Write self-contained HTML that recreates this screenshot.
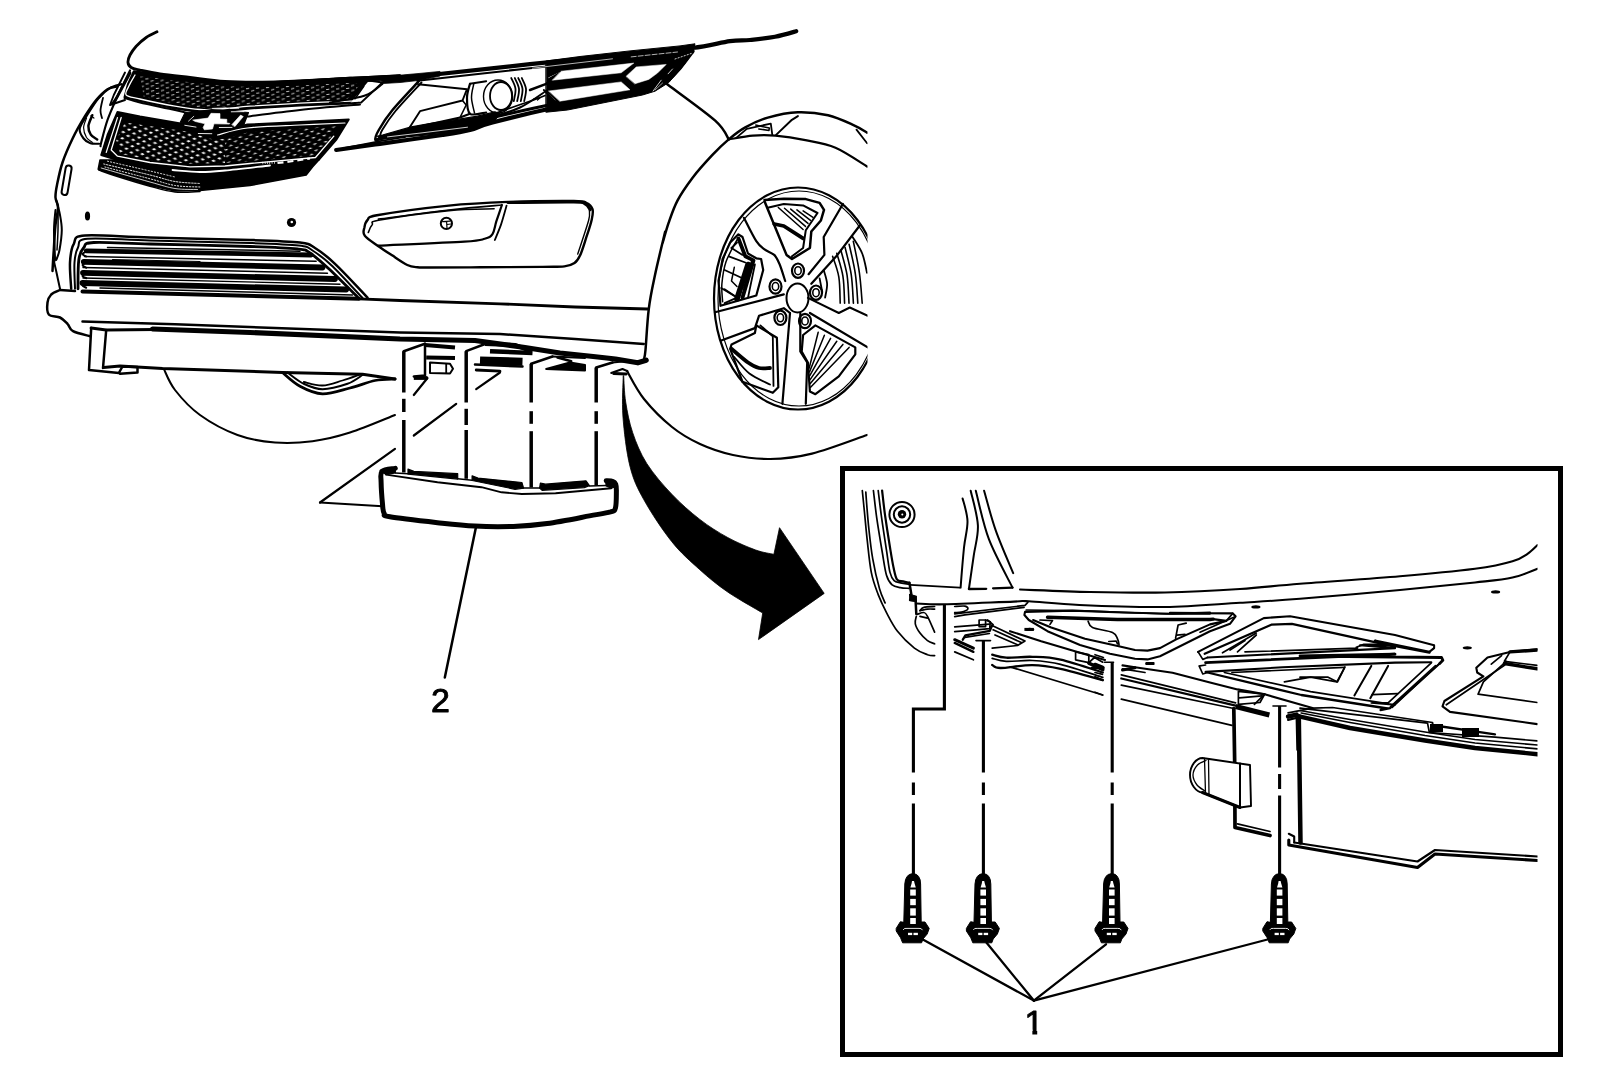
<!DOCTYPE html>
<html><head><meta charset="utf-8"><title>Front Air Deflector</title>
<style>
html,body{margin:0;padding:0;background:#fff;}
body{width:1600px;height:1084px;overflow:hidden;font-family:"Liberation Sans",sans-serif;}
svg{display:block}
text{font-family:"Liberation Sans",sans-serif;}
</style></head><body>
<svg width="1600" height="1084" viewBox="0 0 1600 1084" stroke-linecap="round" stroke-linejoin="round">
<defs>
<pattern id="mesh" width="10" height="5" patternUnits="userSpaceOnUse" patternTransform="rotate(-3)">
<path d="M1 1.2 L4.2 0.7 L4.2 1.5 L1 2Z M6 3.7 L9.2 3.2 L9.2 4 L6 4.5Z" fill="#fff"/>
</pattern>
<pattern id="mesh2" width="11" height="6.4" patternUnits="userSpaceOnUse" patternTransform="rotate(8)">
<path d="M0.6 1.6 L2.8 0.5 L5.2 1.6 L2.8 2.7Z M6.1 4.8 L8.3 3.7 L10.7 4.8 L8.3 5.9Z" fill="#fff"/>
</pattern>
<pattern id="mesh3" width="11" height="6.4" patternUnits="userSpaceOnUse" patternTransform="rotate(-12)">
<path d="M0.6 1.6 L3.2 1.0 L5.4 1.6 L2.8 2.3Z M6.1 4.8 L8.7 4.2 L10.9 4.8 L8.3 5.5Z" fill="#fff"/>
</pattern>
<clipPath id="carclip"><rect x="0" y="0" width="867.5" height="700"/></clipPath>
<clipPath id="insclip"><rect x="845" y="471" width="692.5" height="581"/></clipPath>
</defs>
<rect width="1600" height="1084" fill="#fff"/>
<g clip-path="url(#carclip)">
<path d="M163.8 368.8C165.6 372.3 169 382.3 175 390C181 397.7 189.6 407.5 200 415C210.4 422.5 225 430.4 237.5 435C250 439.6 262.5 441.5 275 442.5C287.5 443.5 300 442.9 312.5 441.2C325 439.6 336.2 436.9 350 432.5C363.8 428.1 387.5 417.9 395 415" fill="none" stroke="#000" stroke-width="2" />
<path d="M157 31.8C155.2 32.7 149.7 35.1 146.2 37.5C142.8 39.9 139 43.3 136.2 46.2C133.5 49.2 131.4 52.3 130 55C128.6 57.7 127.8 60.4 128 62.5C128.2 64.6 129.2 66.2 131.2 67.5C133.2 68.8 135.2 69 140 70C144.8 71 151.7 72.5 160 73.8C168.3 75 179.2 76.2 190 77.5C200.8 78.8 212.9 80.7 225 81.5C237.1 82.3 250 82.3 262.5 82.2C275 82.2 285.4 81.7 300 81C314.6 80.3 333.3 79.1 350 78.2C366.7 77.4 391.7 76.4 400 76" fill="none" stroke="#000" stroke-width="2.8" />
<path d="M400 77.2C405 76.9 408.3 77.2 430 75C451.7 72.8 496.7 67.7 530 64.2C563.3 60.8 602.9 57 630 54.2C657.1 51.5 675.8 50.2 692.5 48C709.2 45.8 720.4 42.6 730 41.2C739.6 39.9 742.5 40.8 750 40C757.5 39.2 767.3 38.2 775 36.8C782.7 35.3 792.7 32.2 796.2 31.2" fill="none" stroke="#000" stroke-width="4.2" />
<path d="M380 76.5 L400 75.2 L422 73.2 L440 71.4 L440 76 L420 80.3 L400 82.5 L383 83.5Z" fill="#000" stroke="#000" stroke-width="0.8" />
<path d="M133.8 71.2 L160 74.5 L190 78.2 L225 82 L262.5 82.5 L300 80.8 L350 77.8 L368.8 79.5 L360 90 L348.8 103.5 L300 105.5 L250 108.5 L225 111 L200 112.2 L175 108.5 L140 101 L124.5 97 L128 83.8Z" fill="#000" stroke="#000" stroke-width="1.9" />
<path d="M140 76.2 L175 80.5 L225 86.2 L262.5 87 L300 85.5 L350 82.5 L360 84.5 L347.5 99.5 L300 101.2 L250 104.5 L225 106.5 L200 107.5 L175 103.8 L143.8 97Z" fill="url(#mesh)" stroke="none"/>
<path d="M225 81.5 L262.5 82.2 L300 80.5 L350 77.5 L400 74.8 L400 77.5 L382.5 80.5 L350 82.5 L300 85 L262.5 86.2 L225 85Z" fill="#000" stroke="#000" stroke-width="1.2" />
<path d="M368.8 80.5 L382.5 82.5 L361.2 102.5 L348.8 103.5" fill="none" stroke="#000" stroke-width="1.8" />
<path d="M363.8 86.2 L355 98.8" fill="none" stroke="#000" stroke-width="1.5" />
<path d="M135 75C134 76.9 130.2 82.9 128.8 86.2C127.3 89.6 124.4 92.9 126.2 95C128.1 97.1 131.9 97.1 140 99C148.1 100.9 165 104.5 175 106.2C185 108 191.7 109.1 200 109.5C208.3 109.9 216.7 109 225 108.5C233.3 108 237.5 107.1 250 106.2C262.5 105.4 282.1 104.2 300 103.2C317.9 102.3 347.9 101.2 357.5 100.8" fill="none" stroke="#fff" stroke-width="1.3" />
<path d="M130 73C127.9 76.9 120.4 91.1 117.5 96.2C114.6 101.4 113.3 102.5 112.5 103.8" fill="none" stroke="#000" stroke-width="2.8" />
<path d="M125 72.5 L113.8 95 L110 105 L125 100" fill="none" stroke="#000" stroke-width="1.9" />
<path d="M117.5 112 L140 116.5 L185 124.2 L215 132 L247.5 124.5 L300 122 L348.8 119.5 L336.2 140 L318.8 160 L250 167 L225 169.5 L190 170.5 L150 166.2 L117.5 160 L101.2 155 L107.5 135Z" fill="#000" stroke="#000" stroke-width="1.9" />
<path d="M125 122.5 L185 131.2 L215 140 L225 138.8 L225 163 L190 163.8 L150 160 L120 153.8 L116.2 140Z" fill="url(#mesh2)" stroke="none"/>
<path d="M225 138.8 L247.5 132.5 L300 128.8 L337.5 126.2 L327.5 142.5 L313.8 155.5 L250 161.2 L225 163Z" fill="url(#mesh3)" stroke="none"/>
<path d="M345 123C337.5 123.3 316.2 124.2 300 125C283.8 125.8 261.2 126.3 247.5 128C233.8 129.7 222.5 133.8 217.5 135" fill="none" stroke="#fff" stroke-width="1.2" />
<path d="M121.2 117.5 L111.2 150 L117.5 156.2 L150 162.5 L190 166.8 L225 166 L250 163.5 L315.5 157.5 L333.8 136.2" fill="none" stroke="#fff" stroke-width="1.3" />
<path d="M117.5 117.5 L106.2 152.5" fill="none" stroke="#fff" stroke-width="1.2" />
<path d="M124.5 98C127.1 98.8 131.6 100.5 140 102.5C148.4 104.5 166.7 108.1 175 110C183.3 111.9 187.5 113.1 190 113.8" fill="none" stroke="#000" stroke-width="2" />
<path d="M247.5 116.5C256.2 115.4 281.2 112 300 110C318.8 108 350 105.4 360 104.5" fill="none" stroke="#000" stroke-width="2" />
<path d="M184.8 113.3 L211.8 109.7 L248.5 112.5 L243.6 125.3 L232 127.1 L214 133.1 L200.5 129 L180.3 122.3Z" fill="#000" stroke="#000" stroke-width="1.2" />
<path d="M193 120 L208 118.1 L211 113.3 L220 113.6 L220 118.9 L226.8 119.3 L226.8 123 L229.8 123.4 L229.4 124.1 L214 123.8 L212.5 129 L204.3 129.8 L203.1 127.5 L205 123.8 L195.3 121.5Z" fill="#fff" stroke="#fff" stroke-width="0.6" />
<path d="M232 124.5 L240.6 115.1 L243.3 116.6 L235 126.4Z" fill="#fff" stroke="#fff" stroke-width="0.6" />
<path d="M212.5 108.4 L226 108" fill="none" stroke="#fff" stroke-width="0.9" />
<path d="M230.5 108.4 L238.8 108.2" fill="none" stroke="#fff" stroke-width="0.9" />
<path d="M231.3 111.8 L244 111.6" fill="none" stroke="#fff" stroke-width="0.9" />
<path d="M184.8 125.3 L196 127.1" fill="none" stroke="#fff" stroke-width="0.9" />
<path d="M198.3 133.5 L211.8 133.7" fill="none" stroke="#fff" stroke-width="0.9" />
<path d="M219.3 127.5 L232 127.4" fill="none" stroke="#fff" stroke-width="0.9" />
<path d="M188.5 121.1 L193.8 116.3" fill="none" stroke="#fff" stroke-width="0.8" />
<path d="M100 160 L117.5 160 L150 166.2 L190 170.5 L225 169.5 L250 167 L318.8 160 L312.5 167 L306.2 175 L250 185.5 L200 190.5 L175 191 L150 185.5 L117.5 175.5 L98.2 169.2Z" fill="#000" stroke="#000" stroke-width="1.5" />
<path d="M105 167C112.5 169 138.3 175.7 150 178.8C161.7 181.8 166.7 184.1 175 185.5C183.3 186.9 195.8 186.8 200 187" fill="none" stroke="#fff" stroke-width="1" stroke-dasharray="1.2 1.8"/>
<path d="M103.8 164C111.5 165.8 138.1 172.1 150 175C161.9 177.9 166.7 180.1 175 181.5C183.3 182.9 195.8 183.2 200 183.5" fill="none" stroke="#fff" stroke-width="1" stroke-dasharray="1.4 1.6"/>
<path d="M107.5 161.2C114.6 162.9 138.8 168.4 150 171C161.2 173.6 170.8 176 175 177" fill="none" stroke="#fff" stroke-width="0.9" stroke-dasharray="1.2 2"/>
<path d="M101.2 168C109.4 170.3 137.7 178.6 150 182C162.3 185.4 167.1 187.2 175 188.5C182.9 189.8 193.8 189.3 197.5 189.5" fill="none" stroke="#fff" stroke-width="0.8" />
<path d="M262.5 163 L275 162.5" fill="none" stroke="#fff" stroke-width="2.4" stroke-dasharray="0.7 1.6" stroke-linecap="butt"/>
<path d="M277.5 163 L290 161.5 L300 160 L310 158.5" fill="none" stroke="#fff" stroke-width="2.2" stroke-dasharray="6 4" stroke-linecap="butt"/>
<path d="M172.5 170C177.1 170.3 191.2 171.9 200 172C208.8 172.1 213.3 171.6 225 170.5C236.7 169.4 262.5 166.3 270 165.5" fill="none" stroke="#fff" stroke-width="1.8" />
<path d="M98.8 170C101.9 171.1 109 173.8 117.5 176.5C126 179.2 140.4 183.7 150 186.2C159.6 188.8 166.7 191.1 175 192C183.3 192.9 195.8 191.6 200 191.5" fill="none" stroke="#000" stroke-width="1.5" />
<path d="M117.5 86.2C115.8 86.8 111 87 107.5 89.2C104 91.5 100 95.5 96.2 100C92.5 104.5 89 109.8 85 116.2C81 122.7 76.2 131 72.5 138.8C68.8 146.5 65.1 154.8 62.5 162.5C59.9 170.2 58.2 179.2 57 185C55.8 190.8 55.3 193.8 55.5 197.5C55.7 201.2 58 202.9 58 207.5C58 212.1 56.2 217.9 55.5 225C54.8 232.1 54.2 242.3 53.8 250C53.2 257.7 52.7 267.5 52.5 271" fill="none" stroke="#000" stroke-width="2.5" />
<path d="M121.4 84.2C119.5 84.9 113.6 85.7 109.8 88.1C105.9 90.5 102 94.1 98.1 98.8C94.3 103.4 89.6 111.2 86.5 116.2C83.4 121.2 80.2 125.1 79.7 128.8C79.2 132.5 81.8 136.1 83.6 138.5C85.4 140.9 87.8 142.5 90.4 143.3C93 144.2 97.7 143.7 99.1 143.7" fill="none" stroke="#000" stroke-width="2.1" />
<path d="M92.3 115.2C91.7 117 88.7 122.7 88.4 125.9C88.2 129.1 89.3 132.4 90.8 134.6C92.2 136.9 96.1 138.6 97.2 139.5" fill="none" stroke="#000" stroke-width="2.5" />
<path d="M86.5 118.1C86 119.8 83.6 124.6 83.6 127.8C83.6 131.1 85.1 135.1 86.5 137.5C88 139.9 91.4 141.6 92.3 142.4" fill="none" stroke="#000" stroke-width="1.2" />
<path d="M103 97.8C102.6 99.9 100.6 107 100.5 110.4C100.3 113.8 101.8 116.8 102 118.1" fill="none" stroke="#000" stroke-width="1.8" />
<path d="M90.8 115.8 L93.9 118.1" fill="none" stroke="#000" stroke-width="1.2" />
<path d="M130 70.5C127.9 74.8 121.2 88 117.5 96.2C113.8 104.5 110.2 112.3 107.5 120C104.8 127.7 102.4 138.1 101.2 142.5C100.1 146.9 100.6 145.6 100.5 146.2" fill="none" stroke="#000" stroke-width="2.2" />
<path d="M68.6 168.5 L64.6 192" stroke="#000" stroke-width="8" fill="none"/>
<path d="M68.6 168.5 L64.6 192" stroke="#fff" stroke-width="4" fill="none"/>
<path d="M56.2 200C56.9 202.5 59.1 210 60 215C60.9 220 61.8 224.2 61.8 230C61.7 235.8 60.4 245 59.5 250C58.6 255 56.8 258.3 56.2 260" fill="none" stroke="#000" stroke-width="2" />
<path d="M55.5 210C55.2 213.3 54.1 221.9 54 230C53.9 238.1 55 253.8 55 258.8C55 263.8 53.5 257.7 53.8 260C54 262.3 55.5 267.7 56.5 272.5C57.5 277.3 59.4 286 60 288.8" fill="none" stroke="#000" stroke-width="2" />
<path d="M58 207.5C58 211.2 58.2 222.9 58 230C57.8 237.1 57.2 246.7 57 250" fill="none" stroke="#000" stroke-width="1.5" />
<ellipse cx="87.5" cy="216" rx="2.6" ry="4.6" fill="#000"/>
<circle cx="291.5" cy="222.5" r="4.6" fill="#000"/><circle cx="291.8" cy="222" r="1.3" fill="#fff"/>
<path d="M71.2 288.8C71 284.4 69.6 270 70 262.5C70.4 255 71.2 248.2 73.8 243.8C76.2 239.2 72.3 236.5 85 235.5C97.7 234.5 122.5 236.8 150 237.5C177.5 238.2 225 239.2 250 240C275 240.8 289.2 241.2 300 242.5C310.8 243.8 309.2 244.5 315 248C320.8 251.5 326.2 255.5 335 263.8C343.8 272 362.1 291.9 367.5 297.5" fill="none" stroke="#000" stroke-width="2.5" />
<path d="M75 288.8C74.9 284.4 74 269.4 74.5 262.5C75 255.6 75.8 251.5 78 247.5C80.2 243.5 75.5 239.9 87.5 238.8C99.5 237.6 122.9 239.8 150 240.5C177.1 241.2 225.2 242.2 250 243C274.8 243.8 288.3 244.2 298.8 245.5C309.2 246.8 306.9 247 312.5 250.5C318.1 254 324.2 258.3 332.5 266.2C340.8 274.2 357.5 292.7 362.5 298" fill="none" stroke="#000" stroke-width="2" />
<path d="M78 288.8C78.1 284 77.8 266.9 78.8 260C79.7 253.1 81.2 250.4 83.8 247.5C86.2 244.6 82.7 243.1 93.8 242.5C104.8 241.9 124 243.3 150 244C176 244.7 225.4 245.7 250 246.5C274.6 247.3 287.5 247.9 297.5 249C307.5 250.1 304.8 249.7 310 253C315.2 256.3 320.6 261.2 328.8 268.8C336.9 276.3 353.8 293.3 358.8 298.2" fill="none" stroke="#000" stroke-width="2.8" />
<path d="M86.2 250.8 L311.2 255" fill="none" stroke="#000" stroke-width="4.8" />
<path d="M84.5 256.5 L316.2 261.2" fill="none" stroke="#000" stroke-width="1.4" />
<path d="M83.8 261.8 L322.5 267.5" fill="none" stroke="#000" stroke-width="5.8" />
<path d="M83 267.5 L327.5 273.2" fill="none" stroke="#000" stroke-width="1.4" />
<path d="M83 272.8 L335 279" fill="none" stroke="#000" stroke-width="5.8" />
<path d="M83 278 L340 284.2" fill="none" stroke="#000" stroke-width="1.4" />
<path d="M82.5 283 L346.2 289.5" fill="none" stroke="#000" stroke-width="5.8" />
<path d="M82.5 291.5 L358.8 298.8" fill="none" stroke="#000" stroke-width="4" />
<path d="M107.5 247.5 L300 251.2" fill="none" stroke="#000" stroke-width="1.5" />
<path d="M112.5 259.5 L200 261.5" fill="none" stroke="#000" stroke-width="1.2" />
<path d="M220 253.5 L287.5 255" fill="none" stroke="#000" stroke-width="1.2" />
<path d="M225 275.5 L325 278.2" fill="none" stroke="#000" stroke-width="1.2" />
<path d="M150 285.5 L250 288" fill="none" stroke="#000" stroke-width="1.2" />
<path d="M100 288 L352.5 295" fill="none" stroke="#000" stroke-width="1.5" />
<path d="M87 251.2C86.2 251.7 82.6 253 82.5 253.9C82.4 254.8 85.6 256.1 86.2 256.5" fill="none" stroke="#000" stroke-width="2" />
<path d="M87 262.2C86.2 262.7 82.6 264.1 82.5 265C82.4 265.9 85.6 267.3 86.2 267.8" fill="none" stroke="#000" stroke-width="2" />
<path d="M87 273.2C86.2 273.7 82.6 274.9 82.5 275.8C82.4 276.6 85.6 277.8 86.2 278.2" fill="none" stroke="#000" stroke-width="2" />
<path d="M87 283.5C86.2 283.9 82.6 284.9 82.5 285.6C82.4 286.3 85.6 287.4 86.2 287.8" fill="none" stroke="#000" stroke-width="2" />
<path d="M60 290C58.5 290.8 53.3 292.4 51.2 294.5C49.2 296.6 47.9 299.2 47.5 302.5C47.1 305.8 46.7 312 48.8 314.5C50.8 317 56.9 316 60 317.5C63.1 319 65.3 321.5 67.5 323.8C69.7 326 69.2 329.2 73 331.2C76.8 333.3 87.2 335.4 90 336.2" fill="none" stroke="#000" stroke-width="2.5" />
<path d="M60 290 L75 291" fill="none" stroke="#000" stroke-width="2.5" />
<path d="M358.8 298.8 L400 300.5 L500 303.8 L575 307 L647.5 309" fill="none" stroke="#000" stroke-width="2.8" />
<path d="M82.5 321.5 L175 324.2 L275 328 L400 332.5 L500 334 L575 339 L643.8 344" fill="none" stroke="#000" stroke-width="2.5" />
<path d="M152.5 329 L250 332.5 L400 339 L475 340.5 L525 347.5 L560 353 L593.2 356.5 L615.5 359 L637.8 362.8 L646.2 360.2" fill="none" stroke="#000" stroke-width="5.2" />
<path d="M91.2 328 L89 370 L118.8 373 L122.5 366.5 L137.5 367 L137.5 372.5 L120 373.8" fill="none" stroke="#000" stroke-width="2.5" />
<path d="M106.2 330 L103 368" fill="none" stroke="#000" stroke-width="2.5" />
<path d="M91.2 328 L106.2 330 L155 329.5" fill="none" stroke="#000" stroke-width="3.2" />
<path d="M103.5 367.5 L120 366 L162.5 368.5 L282.5 372.5 L362.5 374.2 L395 379" fill="none" stroke="#000" stroke-width="3" />
<path d="M282.5 372.5C285.4 374.8 293.3 382.7 300 386.2C306.7 389.8 314.2 393.5 322.5 393.8C330.8 394 341.2 390.2 350 388C358.8 385.8 367.5 382 375 380.5C382.5 379 391.7 379.2 395 379" fill="none" stroke="#000" stroke-width="2.8" />
<path d="M287.5 372.5C290.2 374.4 297.9 381 303.8 383.8C309.6 386.5 315.2 389.2 322.5 389.2C329.8 389.2 340.8 386.1 347.5 383.8C354.2 381.4 360 376.5 362.5 375" fill="none" stroke="#000" stroke-width="2" />
<path d="M303.8 382C306.9 382.6 316 385.8 322.5 385.5C329 385.2 336.2 382.3 342.5 380.5C348.8 378.7 357.1 375.5 360 374.5" fill="none" stroke="#000" stroke-width="1.8" />
<path d="M364.4 227.5C364.8 224.9 365.2 222.1 367.5 220C369.8 217.9 364.9 217.4 378.4 215C392 212.6 427.1 207.8 448.8 205.6C470.4 203.4 487.3 202.7 508.1 201.9C529 201.1 560.7 200.8 573.8 200.9C586.8 201.1 583.1 201.5 586.2 202.8C589.4 204.2 591.6 206.2 592.5 209.1C593.4 211.9 592.8 214.9 591.7 219.7C590.7 224.5 588.2 231.7 586.2 237.7C584.3 243.6 582 251.4 580 255.6C578 259.9 577.1 261.3 574.5 263.1C571.9 264.9 569.7 265.8 564.4 266.4C559 267 556.6 266.7 542.5 266.9C528.4 267 498.8 267.2 480 267.3C461.2 267.4 440.4 267.5 430 267.5C419.6 267.5 421.3 267.8 417.5 267.3C413.7 266.9 411.5 267 407.3 265C403.2 263 397.3 258.8 392.5 255.6C387.7 252.5 383.1 249.6 378.4 246.2C373.8 242.9 367 238.8 364.7 235.6C362.3 232.5 363.9 230.1 364.4 227.5Z" fill="none" stroke="#000" stroke-width="2.4" />
<path d="M508.1 202.5C519.1 202.4 560.9 201.6 573.8 201.9C586.6 202.1 582.7 202.8 585.5 204.1C588.2 205.3 589.4 208.6 590.2 209.5" fill="none" stroke="#000" stroke-width="3.2" />
<path d="M368.3 232.5C368.9 231.2 370.2 226.8 372.2 224.7C374.1 222.6 367.2 222.3 380 220C392.8 217.7 429.7 212.5 448.8 210.6C467.8 208.8 486.5 209.1 494.1 208.8" fill="none" stroke="#000" stroke-width="1.6" />
<path d="M378.4 219.1C390.2 217.6 428.2 212.3 448.8 210C469.3 207.7 493 205.8 501.9 205" fill="none" stroke="#000" stroke-width="1.6" />
<path d="M501.9 205C501 207.7 498 216.4 496.4 221.2C494.8 226.1 494.5 231.1 492.5 234.1C490.5 237 489.4 237.5 484.7 238.8C480 240 482.1 240.4 464.4 241.6C446.7 242.7 392.8 244.9 378.4 245.6" fill="none" stroke="#000" stroke-width="2.2" />
<path d="M506.6 205.6C505.7 208.8 503 218.6 501.1 224.4C499.1 230.1 495.9 237.4 494.8 240" fill="none" stroke="#000" stroke-width="1.8" />
<path d="M589.4 210.3C589.2 212 590.5 213.2 588.6 220.5C586.6 227.8 579.5 248.5 577.7 254.1" fill="none" stroke="#000" stroke-width="1.4" />
<circle cx="446.4" cy="223.4" r="5.6" fill="#fff" stroke="#000" stroke-width="2"/><path d="M442.6 221.6 L450 221.2 M446.6 221.4 L447 228.2 M447 224.5 L450.8 224" stroke="#000" stroke-width="1.2" fill="none"/>
<path d="M417.5 80.8C436.2 78.7 494.6 72 530 68.2C565.4 64.5 603.3 61 630 58.2C656.7 55.5 680 53 690 52" fill="none" stroke="#000" stroke-width="2" />
<path d="M418.8 81.2C414.4 86 399.2 101.9 392.5 110C385.8 118.1 381.6 125 378.8 130C375.9 135 375.1 139 375.5 140C375.9 141 380.3 136.9 381.2 136.2" fill="none" stroke="#000" stroke-width="2.5" />
<path d="M421.5 82.5C417.2 87.2 402 103.2 395.5 111C389 118.8 385.1 125.3 382.5 129.5C379.9 133.7 380.4 135.1 380 136.2" fill="none" stroke="#000" stroke-width="1.9" />
<path d="M336.2 150C343.5 149 362.3 146.2 380 143.8C397.7 141.2 427.5 137.3 442.5 135C457.5 132.7 461.7 132.1 470 130C478.3 127.9 478.3 126.2 492.5 122.5C506.7 118.8 532.1 112.5 555 107.5C577.9 102.5 613.3 96 630 92.5C646.7 89 648.8 88.3 655 86.2C661.2 84.2 663.3 83.1 667.5 80C671.7 76.9 675.8 72.3 680 67.5C684.2 62.7 690.4 54 692.5 51.2" fill="none" stroke="#000" stroke-width="4.2" />
<path d="M376.2 140C381 138.8 393.1 135.2 405 133C416.9 130.8 436.7 128 447.5 126.5C458.3 125 462.5 125.2 470 123.8C477.5 122.2 478.3 120.8 492.5 117.5C506.7 114.2 532.1 108.4 555 103.8C577.9 99.1 613.8 92.8 630 89.5C646.2 86.2 648.8 84.7 652.5 83.8" fill="none" stroke="#000" stroke-width="3" />
<path d="M345 148C350.8 146.9 370 143.1 380 141.2C390 139.4 400.8 137.7 405 137" fill="none" stroke="#000" stroke-width="1.8" />
<path d="M408.8 128.8 L420 111.2 L462.5 100.5 L467 89.2 L418 84.2" fill="none" stroke="#000" stroke-width="1.9" />
<path d="M408.8 128.8 L460 117.5 L470 113.8" fill="none" stroke="#000" stroke-width="2.2" />
<path d="M460 117.5 L466.2 105 L462.5 100.5" fill="none" stroke="#000" stroke-width="1.6" />
<path d="M382.5 83.8C379.6 85.7 373.8 92.4 365 95.5C356.2 98.6 335.8 101.3 330 102.5" fill="none" stroke="#000" stroke-width="2" />
<path d="M411.2 126.9 L432.5 123.1 L457.5 119.4 L477.5 116.2 L495 111.9 L500 113.8 L495 120 L470 129.4 L445 133.1 L420 135.6 L382.5 139 L377.5 136.2 L382.5 135Z" fill="#000" stroke="#000" stroke-width="1.2" />
<path d="M387.5 136.9 L420 133.1 L467.5 127.2" fill="none" stroke="#fff" stroke-width="0.8" />
<ellipse cx="501" cy="96" rx="11" ry="14" fill="#fff" stroke="#000" stroke-width="1.8"/>
<ellipse cx="498" cy="96.5" rx="14.5" ry="16.5" fill="none" stroke="#000" stroke-width="1.4"/>
<path d="M470 83.8C469.5 86 467 92.5 467 97.5C467 102.5 466.8 111.2 470 113.8C473.2 116.2 483.5 112.7 486.2 112.5" fill="none" stroke="#000" stroke-width="2.2" />
<path d="M473.8 83.8C473.4 86 471.4 92.6 471.5 97.5C471.6 102.4 474 110.4 474.5 113" fill="none" stroke="#000" stroke-width="1.5" />
<path d="M470 83.8 L486.2 81.2" fill="none" stroke="#000" stroke-width="1.9" />
<path d="M511.2 78C512 79.8 515.1 84.9 515.5 88.8C515.9 92.6 514 99.2 513.8 101.2" fill="none" stroke="#000" stroke-width="1.8" />
<path d="M514.8 78C515.5 79.8 518.6 84.9 519 88.8C519.4 92.6 517.5 99.2 517.2 101.2" fill="none" stroke="#000" stroke-width="1.8" />
<path d="M518.2 78C519 79.8 522.1 84.9 522.5 88.8C522.9 92.6 521 99.2 520.8 101.2" fill="none" stroke="#000" stroke-width="1.8" />
<path d="M521.8 78C522.5 79.8 525.6 84.9 526 88.8C526.4 92.6 524.5 99.2 524.2 101.2" fill="none" stroke="#000" stroke-width="1.8" />
<path d="M490 117.5C495 115.8 510.4 112.1 520 107.5C529.6 102.9 542.9 92.9 547.5 90" fill="none" stroke="#000" stroke-width="2" />
<path d="M497.5 112.5C503.8 110.3 527.1 102.3 535 99.5C542.9 96.7 543.3 96.2 545 95.5" fill="none" stroke="#000" stroke-width="1.6" />
<path d="M546.2 61 L580 56.5 L630 50.9 L680 45.9 L695 43.8 L692.5 52.5 L683.8 65 L668.8 82.5 L655 91.2 L642.5 95 L605 102.5 L567.5 110 L546.2 112.2Z" fill="#000" stroke="#000" stroke-width="1" />
<path d="M561.2 71.2 L633.8 63.1 L621.2 72.8 L552.5 80.2Z" fill="#fff" stroke="#fff" stroke-width="0.5" />
<path d="M548.8 91 L621.2 81.9 L630 89.8 L560 101.2Z" fill="#fff" stroke="#fff" stroke-width="0.5" />
<path d="M626.2 76.2 L636.2 66.9 L666.2 64.4 L657.5 73.1 L648.8 79.4 L635 83.8Z" fill="#fff" stroke="#fff" stroke-width="0.5" />
<path d="M532.5 68.2 L612.5 58.8" fill="none" stroke="#fff" stroke-width="0.7" />
<path d="M631.2 56.9 L677.5 52" fill="none" stroke="#fff" stroke-width="0.7" stroke-dasharray="5 2"/>
<path d="M668.1 73.8 L672.5 69" fill="none" stroke="#fff" stroke-width="0.8" />
<path d="M653.1 91 L661.2 80.2" fill="none" stroke="#fff" stroke-width="0.8" />
<path d="M655 90 L662.5 83.1" fill="none" stroke="#fff" stroke-width="0.6" />
<path d="M675 59 L691.2 53.5" fill="none" stroke="#fff" stroke-width="0.8" stroke-dasharray="1.2 2"/>
<path d="M548.8 77.5 L560 71.2" fill="none" stroke="#fff" stroke-width="0.8" />
<path d="M545 91.2 L555 100" fill="none" stroke="#fff" stroke-width="0.8" />
<path d="M530 90 L546.2 83.8 L550 81.2" fill="none" stroke="#000" stroke-width="2.5" />
<path d="M543.8 90 L555 101.2" fill="none" stroke="#000" stroke-width="1.8" />
<path d="M548.8 76.2 L560 71" fill="none" stroke="#000" stroke-width="1.8" />
<path d="M533.8 98.8 L540 97.8 L537.5 100" fill="none" stroke="#000" stroke-width="1.2" />
<path d="M665.6 83C673.8 89.3 704.7 111.2 715.2 120.6C725.7 130 726.5 136.3 728.7 139.4" fill="none" stroke="#000" stroke-width="2.5" />
<path d="M867.1 132.6C864.8 131.4 860.1 128 853.5 125.1C847 122.2 837.2 117.5 828 115.3C818.7 113.2 807.9 112 797.9 112.3C787.9 112.7 776.6 115.1 767.8 117.6C759 120.1 751.8 123.7 745.3 127.4C738.7 131 734.2 134.8 728.7 139.4C723.2 144 718.2 148.8 712.2 155.2C706.2 161.6 698.4 170.2 692.6 177.7C686.9 185.3 681.6 192.8 677.6 200.3C673.6 207.8 671.1 215.7 668.6 222.9C666.1 230 663.2 241.4 662.6 243C662 244.6 666.3 227.2 665 232.5C663.7 237.8 657.7 262.3 655 275C652.3 287.7 650.3 296.2 648.8 308.8C647.2 321.2 646.3 341.4 645.5 350C644.7 358.6 644 358.8 643.8 360.5" fill="none" stroke="#000" stroke-width="2.5" />
<path d="M728.7 139.4C732.7 138.8 745 136.3 752.8 135.6C760.6 135 766.6 134.9 775.3 135.6C784.1 136.4 795.4 138.1 805.4 140.2C815.4 142.2 825.2 143.3 835.5 147.7C845.8 152.1 861.8 163.3 867.1 166.5" fill="none" stroke="#000" stroke-width="2.2" />
<path d="M736.2 137.9 L746.8 128.9 L770.8 123.6 L772.3 134.9" fill="none" stroke="#000" stroke-width="1.8" />
<path d="M776.1 134.9 L791.9 119.8 L797.9 116.1" fill="none" stroke="#000" stroke-width="2" />
<path d="M755.8 125.1 L769.3 128.1 L769 130.4 L758.8 128.9" fill="none" stroke="#000" stroke-width="1.5" />
<path d="M856.5 129.6 L867.1 143.2" fill="none" stroke="#000" stroke-width="1.8" />
<path d="M627 371C629.8 375.7 636.5 389.7 644 399C651.5 408.3 662.7 419.5 672 427C681.3 434.5 689.8 439.3 700 444C710.2 448.7 721.3 452.5 733 455C744.7 457.5 756.8 459.2 770 459C783.2 458.8 795.8 457.6 812 453.6C828.2 449.6 857.8 438.1 867 435" fill="none" stroke="#000" stroke-width="2.2" />
<ellipse cx="798" cy="298.5" rx="84" ry="111" fill="none" stroke="#000" stroke-width="2.2"/>
<ellipse cx="799" cy="298.5" rx="81" ry="107.5" fill="none" stroke="#000" stroke-width="1.2"/>
<ellipse cx="797.5" cy="298" rx="11" ry="14.5" fill="#fff" stroke="#000" stroke-width="2"/>
<ellipse cx="798" cy="270.7" rx="6" ry="7.2" fill="#fff" stroke="#000" stroke-width="2.2"/><ellipse cx="798" cy="270.7" rx="3.2" ry="4" fill="none" stroke="#000" stroke-width="1.6"/>
<ellipse cx="775.5" cy="286.5" rx="6" ry="7.2" fill="#fff" stroke="#000" stroke-width="2.2"/><ellipse cx="775.5" cy="286.5" rx="3.2" ry="4" fill="none" stroke="#000" stroke-width="1.6"/>
<ellipse cx="816" cy="292.7" rx="6" ry="7.2" fill="#fff" stroke="#000" stroke-width="2.2"/><ellipse cx="816" cy="292.7" rx="3.2" ry="4" fill="none" stroke="#000" stroke-width="1.6"/>
<ellipse cx="780.4" cy="317.8" rx="6" ry="7.2" fill="#fff" stroke="#000" stroke-width="2.2"/><ellipse cx="780.4" cy="317.8" rx="3.2" ry="4" fill="none" stroke="#000" stroke-width="1.6"/>
<ellipse cx="805" cy="321" rx="6" ry="7.2" fill="#fff" stroke="#000" stroke-width="2.2"/><ellipse cx="805" cy="321" rx="3.2" ry="4" fill="none" stroke="#000" stroke-width="1.6"/>
<path d="M764.5 199.9 L783.8 198.8 L805.8 199.1 L819.6 202.9 L824 209.8 L820.9 220.5 L811.3 231.5 L809.9 248 L792 259 L786.5 254.9 L764.5 201.3" fill="none" stroke="#000" stroke-width="2.5" />
<path d="M768.7 207.5 L783.8 204 L803.1 205.4 L817.5 213 L805.8 230.2 L803.1 248 L792 256.3" fill="none" stroke="#000" stroke-width="2" />
<path d="M774.2 224 L783.8 226 L803.1 238.4" fill="none" stroke="#000" stroke-width="3.8" />
<path d="M778.3 207.5 L803.1 229.5" fill="none" stroke="#000" stroke-width="1.5" />
<path d="M784.5 208.3 L805.5 226.4" fill="none" stroke="#000" stroke-width="1.5" />
<path d="M790.7 209.1 L808 223.4" fill="none" stroke="#000" stroke-width="1.5" />
<path d="M796.9 209.9 L810.5 220.4" fill="none" stroke="#000" stroke-width="1.5" />
<path d="M803.1 210.8 L813 217.4" fill="none" stroke="#000" stroke-width="1.5" />
<path d="M743.9 217.8C746 221.7 752.8 235.9 756.3 241.2C759.7 246.4 761.6 247.1 764.5 249.4C767.5 251.7 771.6 252.4 774.2 254.9C776.7 257.4 777.8 260.2 779.7 264.5C781.5 268.9 784.3 278.3 785.2 281" fill="none" stroke="#000" stroke-width="2.2" />
<path d="M842.9 204 L823.7 237 L824.4 254.9 L808.6 274.2" fill="none" stroke="#000" stroke-width="2.2" />
<path d="M859.4 226 L837.4 254.9 L811.3 283.8" fill="none" stroke="#000" stroke-width="2.2" />
<path d="M738.4 234.3 L730.2 242.5 L722.6 259 L718.5 281 L720.5 305.8 L756.3 295.5 L763.2 270 L761.1 259 L756.3 258.3 L748 253.5 L742.5 237Z" fill="none" stroke="#000" stroke-width="2.2" />
<path d="M737 239.8C735.2 243.4 728.5 254.5 726 261.8C723.5 269.1 722.5 277.1 721.9 283.8C721.3 290.4 722.5 298.7 722.6 301.7" fill="none" stroke="#000" stroke-width="1.5" />
<path d="M738.4 238.4 L745.3 256.3 L753.5 260.4 L742.5 297.6" fill="none" stroke="#000" stroke-width="3.8" />
<path d="M748 264.5 L737 298.9" fill="none" stroke="#000" stroke-width="5.6" />
<path d="M751.5 261.8 L743.9 287.9" fill="none" stroke="#000" stroke-width="1.8" />
<path d="M724.6 289.3 L737 297.6 L724.6 303.1" fill="none" stroke="#000" stroke-width="1.8" />
<path d="M731.5 248 L737 242.5" fill="none" stroke="#000" stroke-width="1.8" />
<path d="M731.5 248 L742.5 254.9" fill="none" stroke="#000" stroke-width="1.8" />
<path d="M728.8 256.3 L745.3 262.5" fill="none" stroke="#000" stroke-width="1.8" />
<path d="M724.6 270 L742.5 278.3" fill="none" stroke="#000" stroke-width="1.8" />
<path d="M721.2 287.9 L737 297.6" fill="none" stroke="#000" stroke-width="1.8" />
<path d="M734.3 267.3 L731.5 281 L737 286.5" fill="none" stroke="#000" stroke-width="1.5" />
<path d="M754.9 264.5 L748 297.6" fill="none" stroke="#000" stroke-width="1.8" />
<path d="M715 312.3 L783.8 294.4" fill="none" stroke="#000" stroke-width="2.2" />
<path d="M721.2 340.5 L754.9 328.1 L759 315.8 L783.8 308.2 L790 313" fill="none" stroke="#000" stroke-width="2.2" />
<path d="M756.3 325.4 L776.9 337.8 L778.3 387.3 L772.8 392.8 L742.5 381.8 L730.2 348.8 L731.5 344.6 L754.9 333Z" fill="none" stroke="#000" stroke-width="2.2" />
<path d="M760.4 325.4 L772.8 336.4 L773.5 385.9" fill="none" stroke="#000" stroke-width="1.8" />
<path d="M731.5 348.8C734.3 351.1 743.4 359.3 748 362.5C752.6 365.7 755.4 367.1 759 368C762.7 369 768.2 368 770 368" fill="none" stroke="#000" stroke-width="3.8" />
<path d="M734.3 357C736.8 359.8 743.4 369 749.4 373.5C755.4 378.1 766.6 382.7 770 384.5" fill="none" stroke="#000" stroke-width="1.8" />
<path d="M790 313 L782.4 403.8" fill="none" stroke="#000" stroke-width="2.2" />
<path d="M800.3 313 L800.3 351.5 L807.2 362.5 L805.8 403.8" fill="none" stroke="#000" stroke-width="2.2" />
<path d="M815.4 325.4 L855.3 347.4 L855.3 354.3 L838.8 376.3 L815.4 394.2 L809.9 391.4 L807.9 362.5 L801.7 351.5 L803.1 335Z" fill="none" stroke="#000" stroke-width="2.2" />
<path d="M818.2 332.3 L809.2 368" fill="none" stroke="#000" stroke-width="1.5" />
<path d="M824.4 335.3 L809.5 371.9" fill="none" stroke="#000" stroke-width="1.5" />
<path d="M830.6 338.3 L809.8 375.7" fill="none" stroke="#000" stroke-width="1.5" />
<path d="M836.8 341.3 L810.1 379.6" fill="none" stroke="#000" stroke-width="1.5" />
<path d="M842.9 344.4 L810.3 383.4" fill="none" stroke="#000" stroke-width="1.5" />
<path d="M849.1 347.4 L810.6 387.3" fill="none" stroke="#000" stroke-width="1.5" />
<path d="M809.9 313 L867.7 347.4" fill="none" stroke="#000" stroke-width="2.2" />
<path d="M807.9 297.9 L838.8 313 L849.8 307.5 L867.7 315.8" fill="none" stroke="#000" stroke-width="2" />
<path d="M832.6 256.3C833.7 259.7 837.6 269.1 838.8 276.9C840.1 284.7 840 298.7 840.2 303.1" fill="none" stroke="#000" stroke-width="1.6" />
<path d="M836.8 253.3C837.8 257.1 841.6 267.8 842.9 276.1C844.3 284.4 844.3 298.6 844.6 303.1" fill="none" stroke="#000" stroke-width="1.6" />
<path d="M840.9 250.2C841.9 254.4 845.7 266.5 847.1 275.3C848.4 284.1 848.7 298.4 849 303.1" fill="none" stroke="#000" stroke-width="1.6" />
<path d="M845 247.2C846 251.7 849.8 265.1 851.2 274.4C852.6 283.8 853 298.3 853.4 303.1" fill="none" stroke="#000" stroke-width="1.6" />
<path d="M849.1 244.2C850.2 249.1 853.9 263.8 855.3 273.6C856.8 283.4 857.4 298.1 857.8 303.1" fill="none" stroke="#000" stroke-width="1.6" />
<path d="M853.3 241.2C854.3 246.4 858 262.5 859.4 272.8C860.9 283.1 861.7 298 862.2 303.1" fill="none" stroke="#000" stroke-width="1.6" />
<path d="M852.6 237C854.2 239.8 859.8 247.6 862.2 253.5C864.6 259.5 866.2 269.6 867 272.8" fill="none" stroke="#000" stroke-width="1.8" />
<path d="M823.7 270C824.3 272.3 826.9 279.2 827.1 283.8C827.4 288.4 825.4 295.3 825.1 297.6" fill="none" stroke="#000" stroke-width="1.8" />
<path d="M819.6 278.3 L822.3 292" fill="none" stroke="#000" stroke-width="1.8" />
</g>
<path d="M320 502.5 L382.5 506.2" fill="none" stroke="#000" stroke-width="2" />
<path d="M320 502.5 L395 448.8" fill="none" stroke="#000" stroke-width="2.2" />
<path d="M413.8 435.5 L456.2 403.8" fill="none" stroke="#000" stroke-width="2.2" />
<path d="M476.2 389.2 L500 372.5" fill="none" stroke="#000" stroke-width="2.2" />
<path d="M413.8 395 L427.5 378" fill="none" stroke="#000" stroke-width="2.2" />
<path d="M476 527 L444.8 677.5" fill="none" stroke="#000" stroke-width="2.5" />
<path d="M425 343.8 L425 375.5 L413.8 376.5" fill="none" stroke="#000" stroke-width="2.5" />
<path d="M426.2 357.5 L455 358" fill="none" stroke="#000" stroke-width="3.8" stroke-linecap="butt"/>
<path d="M430 362.5 L430 373 L450 373.5 L453 368.8 L450 363.8 L430 362.5" fill="none" stroke="#000" stroke-width="2" />
<path d="M446.2 364 L446.2 373" fill="none" stroke="#000" stroke-width="1.8" />
<path d="M413.8 378 L427.5 378" fill="none" stroke="#000" stroke-width="3.8" stroke-linecap="butt"/>
<path d="M425 345 L455 347.5" fill="none" stroke="#000" stroke-width="4.2" stroke-linecap="butt"/>
<path d="M485 343.8 L515 345 L531.2 351.2" fill="none" stroke="#000" stroke-width="4.2" stroke-linecap="butt"/>
<path d="M490 351.2 L532.5 353" fill="none" stroke="#000" stroke-width="4.5" stroke-linecap="butt"/>
<path d="M480 360.5 L522.5 361.8" fill="none" stroke="#000" stroke-width="8.1" stroke-linecap="butt"/>
<path d="M475 364.5 L522.5 366.5" fill="none" stroke="#000" stroke-width="2.5" />
<path d="M476.2 370 L500 371.2" fill="none" stroke="#000" stroke-width="2.8" />
<path d="M552.5 356.5 L585 358" fill="none" stroke="#000" stroke-width="2" />
<path d="M546.2 369 L570 362.5 L585 365 L585 370.5 L546.2 369Z" fill="#000" stroke="#000" stroke-width="2" />
<path d="M557.5 357.5 L571.2 361.2" fill="none" stroke="#000" stroke-width="2.5" />
<path d="M612.5 362.5 L625 361.2" fill="none" stroke="#000" stroke-width="2" />
<path d="M611.2 373 L622.5 369 L627.5 371.2" fill="none" stroke="#000" stroke-width="2" />
<path d="M613.8 373.5 L626.2 374" fill="none" stroke="#000" stroke-width="3" />
<path d="M403.8 351.2 L425 343.8" fill="none" stroke="#000" stroke-width="2.5" />
<path d="M466.2 351.2 L485 344" fill="none" stroke="#000" stroke-width="2.5" />
<path d="M531.2 363.8 L552.5 356.5" fill="none" stroke="#000" stroke-width="2.5" />
<path d="M596.2 367.5 L612.5 362.5" fill="none" stroke="#000" stroke-width="2.5" />
<path d="M403.8 351.2 L403.8 392.5" fill="none" stroke="#000" stroke-width="3.5" stroke-linecap="butt"/>
<path d="M403.8 398.8 L403.8 412" fill="none" stroke="#000" stroke-width="3.5" stroke-linecap="butt"/>
<path d="M403.8 420 L403.8 472.5" fill="none" stroke="#000" stroke-width="3.5" stroke-linecap="butt"/>
<path d="M466.2 351.2 L466.2 402.5" fill="none" stroke="#000" stroke-width="3.5" stroke-linecap="butt"/>
<path d="M466.2 408.8 L466.2 425" fill="none" stroke="#000" stroke-width="3.5" stroke-linecap="butt"/>
<path d="M466.2 430 L466.2 478.8" fill="none" stroke="#000" stroke-width="3.5" stroke-linecap="butt"/>
<path d="M531.2 363.8 L531.2 402.5" fill="none" stroke="#000" stroke-width="3.5" stroke-linecap="butt"/>
<path d="M531.2 411.2 L531.2 423.8" fill="none" stroke="#000" stroke-width="3.5" stroke-linecap="butt"/>
<path d="M531.2 431.2 L531.2 487.5" fill="none" stroke="#000" stroke-width="3.5" stroke-linecap="butt"/>
<path d="M596.2 367.5 L596.2 402.5" fill="none" stroke="#000" stroke-width="3.5" stroke-linecap="butt"/>
<path d="M596.2 411.2 L596.2 423.8" fill="none" stroke="#000" stroke-width="3.5" stroke-linecap="butt"/>
<path d="M596.2 431.2 L596.2 485.5" fill="none" stroke="#000" stroke-width="3.5" stroke-linecap="butt"/>
<path d="M395.3 468.3C393.1 468.9 384.5 469.1 382.1 471.4C379.8 473.7 381.1 476.7 381.1 482.2C381.2 487.6 382 498.9 382.5 504.1C383 509.4 382.9 511.5 384.2 513.6C385.4 515.7 381 515.3 389.9 516.8C398.8 518.3 423.4 521.1 437.5 522.7C451.6 524.2 462 525.4 474.6 526.1C487.3 526.7 501.3 526.8 513.4 526.4C525.5 526 534.5 525.3 547.2 523.5C559.8 521.8 578.8 517.9 589.4 515.9C599.9 514 606.1 513.2 610.5 511.9C614.8 510.5 614.5 511.4 615.5 507.8C616.5 504.3 616.3 494.6 616.4 490.6C616.4 486.7 616.3 485.7 615.7 484.2C615.1 482.7 614.6 482.1 613 481.5C611.4 480.9 607.4 480.8 606.2 480.7" fill="none" stroke="#000" stroke-width="5" />
<path d="M380.1 470.4 L395.3 467 L395.3 472.9 L386 474.6Z" fill="#000" stroke="#000" stroke-width="1.2" />
<path d="M605.4 479.7 L614.7 480.5 L617.4 485.9 L611.3 488.3 L606.2 485.9Z" fill="#000" stroke="#000" stroke-width="1.2" />
<path d="M386 474.6 L437.5 482.2 L481.4 487.2 L501.6 492.3 L521.9 494 L555.6 493.2 L611.3 488.3" fill="none" stroke="#000" stroke-width="1.9" />
<path d="M408 469 L413.9 471.4 L457.7 473.7 L457.7 479.1 L408 474.1Z" fill="#000" stroke="#000" stroke-width="1.2" />
<path d="M472.1 475.8 L478 478.1 L521.9 482.5 L523.6 488.1 L515.1 489.3 L472.1 480.5Z" fill="#000" stroke="#000" stroke-width="1.2" />
<path d="M540.4 483 L545.5 484.2 L586 480.8 L589.4 485.6 L584.3 487.6 L542.1 490.3 L539.6 488.1Z" fill="#000" stroke="#000" stroke-width="1.2" />
<path d="M395.3 472.9 L408 473.7" fill="none" stroke="#000" stroke-width="1.5" />
<path d="M457.7 478.8 L472.1 480.2" fill="none" stroke="#000" stroke-width="1.5" />
<path d="M522.7 488.1 L539.6 488.1" fill="none" stroke="#000" stroke-width="1.5" />
<path d="M589.4 485.9 L606.2 485.6" fill="none" stroke="#000" stroke-width="1.5" />
<path d="M623.7 376C624 380.3 624.2 392.6 625.7 402C627.2 411.4 629.2 422.5 632.7 432.7C636.2 442.9 640.2 453.1 646.7 463.4C653.2 473.6 662.9 484.9 671.8 494.2C680.6 503.5 690.5 512.2 699.8 519.4C709.1 526.6 718.4 532.4 727.7 537.5C737 542.6 748 547.2 755.7 550C763.4 552.8 770.9 553.6 773.9 554.3 L779.5 527.7 L824.2 593.4 L758.5 639.6 L762.7 613 C756.9 609.5 738.2 599.2 727.7 592C717.2 584.8 709.1 578.1 699.8 569.7C690.5 561.3 681.1 553.4 671.8 541.7C662.5 530.1 650.9 512.4 643.9 499.8C636.9 487.2 633.4 480 629.9 466C626.4 452 624 431 622.9 416C621.8 401 623.2 382.7 623.2 376Z" fill="#000" stroke="#000" stroke-width="0.8"/>
<text x="440.5" y="711.7" style="filter:grayscale(1)" font-size="34" text-anchor="middle" fill="#000" stroke="#000" stroke-width="0.9">2</text>
<rect x="842.5" y="468.5" width="718" height="586" fill="#fff" stroke="#000" stroke-width="5" stroke-linejoin="miter"/>
<g clip-path="url(#insclip)">
<path d="M862.3 490.5C862.6 494 863.6 503.4 864.4 511.5C865.2 519.6 866 529.1 867.1 539.2C868.3 549.4 869.5 563.2 871.3 572.4C873.1 581.6 875.7 587.9 878.2 594.6C880.8 601.3 883.3 606.4 886.5 612.6C889.7 618.7 892.9 625.3 897.5 631.3C902.1 637.2 909.4 644.2 914.4 648.1C919.4 652 924.1 653.4 927.5 654.7C930.9 655.9 933.4 655.5 934.6 655.6" fill="none" stroke="#000" stroke-width="1.7" />
<path d="M865.8 492.1C866.2 497.7 867.4 514.3 868.5 525.4C869.7 536.4 870.8 548 872.7 558.6C874.5 569.2 877.5 581.6 879.6 589C881.7 596.4 884.2 600.6 885.1 602.9" fill="none" stroke="#000" stroke-width="1.7" />
<path d="M873.4 490.5C874 495.1 875.3 508 876.8 518.4C878.3 528.9 880.8 543.6 882.4 553C884 562.5 884.9 569.9 886.5 575.2C888.1 580.5 889.8 582.8 892.1 584.9C894.4 587 897.6 587.1 900.4 587.6C903.1 588.2 907.3 588.2 908.7 588.3" fill="none" stroke="#000" stroke-width="1.7" />
<path d="M878.2 490.5C878.8 495.1 880.3 508.5 881.7 518.4C883.1 528.4 885.1 541.3 886.5 550.3C887.9 559.3 888.7 567.3 890 572.4C891.3 577.5 892.4 579 894.1 580.7C895.9 582.5 897.9 582.2 900.4 582.8C902.8 583.4 907.3 584 908.7 584.2" fill="none" stroke="#000" stroke-width="1.7" />
<path d="M882.1 490.5C882.6 494.7 883.8 506.2 885.1 515.7C886.5 525.2 888.6 539 890 547.5C891.4 556 892.3 561.6 893.4 566.9C894.6 572.2 895.3 576.9 896.9 579.3C898.5 581.8 901.1 580.8 903.1 581.4C905.2 582 908.3 582.6 909.4 582.8" fill="none" stroke="#000" stroke-width="2.2" />
<path d="M909.4 582.8 L911.4 594.6 L910.1 600.1 L915.6 600.8 L916.3 613.9" fill="none" stroke="#000" stroke-width="2.5" />
<path d="M909.5 594.3 L916.4 596.2 L916.4 601.5 L910.1 600.5Z" fill="#000" stroke="#000" stroke-width="1.1" />
<path d="M910.1 584.9 L959.9 587.6" fill="none" stroke="#000" stroke-width="1.7" />
<circle cx="902" cy="514.5" r="12.6" fill="none" stroke="#000" stroke-width="2"/>
<circle cx="902" cy="514.5" r="8.2" fill="none" stroke="#000" stroke-width="2"/>
<circle cx="902" cy="514.2" r="4.2" fill="#000"/><circle cx="902.3" cy="514.5" r="1" fill="#fff"/>
<path d="M962.6 498.4C963.5 502.2 967.3 513 967.5 521.2C967.7 529.4 965.2 536.4 964 547.5C962.9 558.6 961.1 581 960.6 587.6" fill="none" stroke="#000" stroke-width="2" />
<path d="M970.7 490.8C971.9 496.5 977.4 514.5 977.9 525.4C978.4 536.2 975.2 545.2 973.7 555.8C972.2 566.4 969.7 583.5 968.9 589" fill="none" stroke="#000" stroke-width="2" />
<path d="M975.8 490.8C978 498.8 982.8 523.1 988.9 539.2C995.1 555.4 1008.6 579.6 1012.5 587.6" fill="none" stroke="#000" stroke-width="2" />
<path d="M984.1 490.8C986.1 497.5 991 517.2 995.9 530.9C1000.7 544.6 1010.3 566.1 1013.2 573.1" fill="none" stroke="#000" stroke-width="2" />
<path d="M968.9 589 L986.2 588.8" fill="none" stroke="#000" stroke-width="2.3" />
<path d="M993.1 588.3 L1012.5 587.6" fill="none" stroke="#000" stroke-width="2.3" />
<path d="M1020 589.5C1031.7 589.9 1065.8 591.5 1090 592C1114.2 592.5 1140 593 1165 592.5C1190 592 1217.5 590.5 1240 589C1262.5 587.5 1273.3 585.9 1300 583.8C1326.7 581.6 1370.8 578.8 1400 576.2C1429.2 573.8 1456.2 571.2 1475 568.8C1493.8 566.2 1503.8 563.8 1512.5 561.2C1521.2 558.8 1523.3 556.5 1527.5 553.8C1531.7 551 1535.8 546.5 1537.5 545" fill="none" stroke="#000" stroke-width="2.1" />
<path d="M916.3 603.5C920.9 603.6 928.1 604.6 944.4 604.3C960.6 603.9 999.7 602.1 1013.8 601.6C1027.8 601.1 1017.8 600.7 1028.8 601.3C1039.7 601.8 1056.7 604 1079.4 605C1102.1 606 1138.2 607.4 1165 607C1191.8 606.6 1217.5 604.1 1240 602.8C1262.5 601.4 1273.3 600.9 1300 598.8C1326.7 596.6 1370.8 592.7 1400 590C1429.2 587.3 1456.2 584.6 1475 582.5C1493.8 580.4 1502.1 579.8 1512.5 577.5C1522.9 575.2 1533.3 570.2 1537.5 568.8" fill="none" stroke="#000" stroke-width="2.1" />
<ellipse cx="1255.9" cy="606.9" rx="4.6" ry="1.6" fill="#000"/>
<ellipse cx="1149.8" cy="663.5" rx="4.6" ry="1.6" fill="#000"/>
<ellipse cx="1495.6" cy="591.9" rx="4.6" ry="1.6" fill="#000"/>
<ellipse cx="1467.3" cy="647.8" rx="4.6" ry="1.6" fill="#000"/>
<ellipse cx="1029.7" cy="629.4" rx="4.6" ry="1.6" fill="#000"/>
<ellipse cx="1095.0" cy="667.8" rx="4.6" ry="1.6" fill="#000"/>
<path d="M954.7 613.8 L1025 605.4 L1027.8 602.4" fill="none" stroke="#000" stroke-width="1.7" />
<path d="M954.7 616.6 L965 614.8 L1024.1 607.3" fill="none" stroke="#000" stroke-width="1.7" />
<path d="M920 610.6C920.6 610.1 921.3 607.9 923.8 607.3C926.2 606.6 932.8 606.6 934.6 606.5" fill="none" stroke="#000" stroke-width="1.7" />
<path d="M920 610.6C921.3 610.4 925.1 609.4 927.5 609.1C929.9 608.9 933.4 609.1 934.6 609.1" fill="none" stroke="#000" stroke-width="1.7" />
<path d="M954.7 606.5C956.4 606.4 962.8 605.7 965 606.1C967.2 606.6 968.4 608.1 967.8 609.1C967.2 610.1 963.4 611.6 961.3 612.1C959.1 612.7 955.8 612.4 954.7 612.5" fill="none" stroke="#000" stroke-width="1.7" />
<path d="M916.3 616.3C916.1 617.5 914.7 620.9 915.3 623.8C915.9 626.6 918 630.3 920 633.1C922 635.9 925.1 638.8 927.5 640.6C929.9 642.4 933.4 643.3 934.6 643.8" fill="none" stroke="#000" stroke-width="1.7" />
<path d="M917.2 614.4C918.3 614.1 922 612.2 923.8 612.5C925.5 612.8 925.7 613 927.5 616.3C929.3 619.5 933.4 629.5 934.6 632.2" fill="none" stroke="#000" stroke-width="1.7" />
<path d="M920 616.3 L927.5 618.1" fill="none" stroke="#000" stroke-width="1.7" />
<path d="M979.1 620 L985.6 620 L985.6 626.6 L979.1 626.6 L979.1 620" fill="none" stroke="#000" stroke-width="1.7" />
<path d="M985.6 620 L990.3 621.9 L989.8 627.5" fill="none" stroke="#000" stroke-width="1.7" />
<path d="M954.7 626.9 L989.4 624.1" fill="none" stroke="#000" stroke-width="1.7" />
<path d="M954.7 631.6 L976.3 629.8 L989.4 628.6 L993.1 624.7 L987.5 620" fill="none" stroke="#000" stroke-width="1.7" />
<path d="M962.8 639.7 L965.4 635.4 L989.8 630.9 L992.2 625.3" fill="none" stroke="#000" stroke-width="2.3" />
<path d="M965 637.3 L989.4 633.5" fill="none" stroke="#000" stroke-width="1.7" />
<path d="M954.7 639.7 L973.4 648.1" fill="none" stroke="#000" stroke-width="3" />
<path d="M954.7 642.9 L973.4 651.9" fill="none" stroke="#000" stroke-width="2.3" />
<path d="M954.7 651.9 L973.4 659.8" fill="none" stroke="#000" stroke-width="1.7" />
<path d="M992.2 648.1 L1017.5 645.5 L1025 641 L993.1 626" fill="none" stroke="#000" stroke-width="1.7" />
<path d="M993.1 629.8 L1021.3 642.5" fill="none" stroke="#000" stroke-width="1.7" />
<path d="M995 635 L1017.5 644.8" fill="none" stroke="#000" stroke-width="1.7" />
<path d="M992.2 654.7C994.5 655.2 999.5 657.3 1006.3 657.7C1013 658 1023.4 656.4 1032.5 656.8C1041.6 657.1 1048.9 656.9 1060.6 659.6C1072.3 662.2 1095.8 670.3 1102.8 672.5" fill="none" stroke="#000" stroke-width="2.3" />
<path d="M992.2 658.4C994.5 658.9 999.5 661.1 1006.3 661.4C1013 661.8 1023.4 660 1032.5 660.5C1041.6 661 1048.9 661.4 1060.6 664.3C1072.3 667.1 1095.8 675.2 1102.8 677.4" fill="none" stroke="#000" stroke-width="1.7" />
<path d="M992.2 665C993.6 665.5 993.9 668 1000.6 668C1007.3 668 1022.5 665 1032.5 665.2C1042.5 665.3 1048.9 666.4 1060.6 668.9C1072.3 671.4 1095.8 678.3 1102.8 680.2" fill="none" stroke="#000" stroke-width="2.3" />
<path d="M1010 666.9 L1102.8 695" fill="none" stroke="#000" stroke-width="1.7" />
<path d="M1010 631.2 L1041.2 641.2 L1075 651.2 L1105 660" fill="none" stroke="#000" stroke-width="2.1" />
<path d="M1075.6 651.9 L1088.8 654.7 L1088.8 662.6 L1075.6 659.8 L1075.6 651.9" fill="none" stroke="#000" stroke-width="1.7" />
<path d="M1088.8 662.6 L1094.4 657.5 L1102.8 662.2" fill="none" stroke="#000" stroke-width="1.7" />
<path d="M1088.8 663.1 L1102.8 669.7" fill="none" stroke="#000" stroke-width="3.4" />
<path d="M1210 612.5 L1172.5 613.8 L1122.5 612.5 L1072.5 610.6 L1025 611.9 L1024.4 615 L1028.8 620 L1047.5 631.2 L1080 645 L1110 653.8 L1135 658.8 L1147.5 659.4 L1160 656.2 L1185 643.8 L1210 631.2 L1230 623.8 L1235.6 616.3 L1232.8 613.4 L1170 612.9" fill="none" stroke="#000" stroke-width="2.1" />
<path d="M1047.5 617.2 L1117.5 619.5 L1210 619.5 L1213.1 619.1" fill="none" stroke="#000" stroke-width="3.4" />
<path d="M1033.1 620 L1051.2 627.5 L1085 638.8 L1118.8 646.2 L1135 650 L1147.5 650.6 L1160 648.1 L1176.2 639.4 L1210 624.4 L1226.3 620.9 L1213.1 619.1" fill="none" stroke="#000" stroke-width="2.1" />
<path d="M1040 620 L1052.5 620.6 L1050 624.4" fill="none" stroke="#000" stroke-width="1.7" />
<path d="M1088.1 621.2C1088.9 622.3 1088.4 625.6 1092.5 627.5C1096.6 629.4 1108.3 630.6 1112.5 632.5C1116.7 634.4 1116.4 636.7 1117.5 638.8C1118.6 640.8 1118.8 643.8 1119 644.8" fill="none" stroke="#000" stroke-width="1.7" />
<path d="M1108.8 641.5 L1116.2 641 L1117.5 643.8" fill="none" stroke="#000" stroke-width="1.7" />
<path d="M1186.2 623.1 L1178.1 625 L1175.6 638.1" fill="none" stroke="#000" stroke-width="1.7" />
<path d="M1176.9 635.2 L1185 634.4" fill="none" stroke="#000" stroke-width="1.7" />
<path d="M1026.2 610 L1085 610.9 L1166.2 614 L1210 613.8" fill="none" stroke="#000" stroke-width="1.7" />
<path d="M1024.4 629.4 L1033.8 629.4" fill="none" stroke="#000" stroke-width="3" stroke-linecap="butt"/>
<path d="M1145.6 663.5 L1154.4 663.5" fill="none" stroke="#000" stroke-width="3" stroke-linecap="butt"/>
<path d="M1232.8 613.4 L1226.3 620.9" fill="none" stroke="#000" stroke-width="1.7" />
<path d="M1233.8 617.2 L1200 632.2" fill="none" stroke="#000" stroke-width="1.7" />
<path d="M1198.1 651.9 L1263.8 618.1 L1290 616.3 L1395 635 L1434.1 645.3 L1434.1 648.1 L1429.4 651.9" fill="none" stroke="#000" stroke-width="2.1" />
<path d="M1204.7 653.8 L1271.3 624.7 L1291.9 623.8 L1395 646.6 L1375 640.6 L1429.4 651.9" fill="none" stroke="#000" stroke-width="2.3" />
<path d="M1198.1 651.9 L1202.8 659.4 L1207.5 657.5" fill="none" stroke="#000" stroke-width="1.7" />
<path d="M1222.5 652.8 L1256.3 633.1" fill="none" stroke="#000" stroke-width="1.7" />
<path d="M1237.5 651.9 L1256.3 635" fill="none" stroke="#000" stroke-width="1.7" />
<path d="M1230 650 L1245 640.6" fill="none" stroke="#000" stroke-width="1.7" />
<path d="M1207.5 657.5 L1395 648.1 L1360 645.3 L1390 645.3 L1429.4 652.8" fill="none" stroke="#000" stroke-width="2.1" />
<path d="M1245 651.9 L1357.5 648.1 L1356.3 647.2 L1363.8 644.4 L1390 644.4" fill="none" stroke="#000" stroke-width="1.7" />
<path d="M1205.6 662.6 L1395 654.1 L1300 656 L1441.6 657.5 L1442.9 660.3 L1439.7 663.5" fill="none" stroke="#000" stroke-width="2.8" />
<path d="M1199.1 665.9 L1202.8 674 L1207.5 672.5" fill="none" stroke="#000" stroke-width="1.7" />
<path d="M1200 665.9 L1205.6 665" fill="none" stroke="#000" stroke-width="1.7" />
<path d="M1205.6 671.9 L1282.5 667.3 L1395 662.6 L1431.3 662.2" fill="none" stroke="#000" stroke-width="2.1" />
<path d="M1207.5 672.5 L1301.3 695 L1387.5 708.5 L1380.6 710 L1390 708.1 L1439.7 663.5" fill="none" stroke="#000" stroke-width="2.3" />
<path d="M1224.4 672.5 L1310.6 691.6 L1395 704.8 L1371.3 702.9 L1388.1 702.9 L1431.3 662.8" fill="none" stroke="#000" stroke-width="1.7" />
<path d="M1435.4 665.4 L1390.4 706.6" fill="none" stroke="#000" stroke-width="1.4" />
<path d="M1437.8 665 L1392.3 707.4" fill="none" stroke="#000" stroke-width="1.4" />
<path d="M1284.4 681.9 L1310.6 677.2 L1336.9 681.9 L1344.4 667.8" fill="none" stroke="#000" stroke-width="1.7" />
<path d="M1300 677.2 L1328.1 677.2 L1337.5 681.9 L1345 666.9" fill="none" stroke="#000" stroke-width="1.7" />
<path d="M1354.4 695.4 L1371.3 665.9" fill="none" stroke="#000" stroke-width="2" />
<path d="M1370.3 698.2 L1388.1 665.9" fill="none" stroke="#000" stroke-width="2" />
<path d="M1372.2 694.6 L1397.5 693.7" fill="none" stroke="#000" stroke-width="1.7" />
<path d="M1231.9 672.5 L1344.4 667.3" fill="none" stroke="#000" stroke-width="1.7" />
<path d="M1537.2 649.4 L1510 651.9 L1487.5 657.5 L1476.3 667.8 L1477.2 672.5 L1483.4 676.3 L1444.4 701 L1442.5 706.3 L1450 711.9 L1537.2 724.1" fill="none" stroke="#000" stroke-width="2.1" />
<path d="M1510 651.9 L1537.2 650" fill="none" stroke="#000" stroke-width="3.4" />
<path d="M1510 651.9 L1504.4 661.3 L1537.2 665.4" fill="none" stroke="#000" stroke-width="1.7" />
<path d="M1504.4 663.5 L1537.2 668.8" fill="none" stroke="#000" stroke-width="3.4" />
<path d="M1506.3 661.3 L1483.4 681.9 L1478.1 694.1 L1537.2 702.5" fill="none" stroke="#000" stroke-width="1.7" />
<path d="M1446.3 704.8 L1504.8 665" fill="none" stroke="#000" stroke-width="1.7" />
<path d="M1491.3 664.1 L1501.6 655.6" fill="none" stroke="#000" stroke-width="1.7" />
<path d="M1121.3 674.8 L1235.6 702.9" fill="none" stroke="#000" stroke-width="1.7" />
<path d="M1121.3 678.5 L1235.6 705.7" fill="none" stroke="#000" stroke-width="2.3" />
<path d="M1121.3 685.1 L1233.8 708.5" fill="none" stroke="#000" stroke-width="1.7" />
<path d="M1121.3 699.1 L1231.9 725.4" fill="none" stroke="#000" stroke-width="1.7" />
<path d="M1122.5 668.8 L1145 672.5" fill="none" stroke="#000" stroke-width="1.7" />
<path d="M1095 654.7 L1103.4 657.5" fill="none" stroke="#000" stroke-width="1.7" />
<path d="M1095 665 L1102.5 667.8" fill="none" stroke="#000" stroke-width="4.6" />
<path d="M1095 672.5 L1102.5 674.4" fill="none" stroke="#000" stroke-width="1.7" />
<path d="M1095 677.2 L1102.5 680" fill="none" stroke="#000" stroke-width="2.3" />
<path d="M1095 692.2 L1102.5 695" fill="none" stroke="#000" stroke-width="1.7" />
<path d="M1122.5 665.4 L1135 667.2 L1172.5 672.8 L1210 682.5 L1237.5 689.4 L1263.8 694.1 L1312.5 708.1" fill="none" stroke="#000" stroke-width="2.1" />
<path d="M1122.5 670 L1135 667.8" fill="none" stroke="#000" stroke-width="3" />
<path d="M1238.4 691.3 L1264.7 694.1 L1260 702.5 L1238.4 704.4 L1238.4 691.3" fill="none" stroke="#000" stroke-width="1.7" />
<path d="M1239.4 697.8 L1261.9 695.9" fill="none" stroke="#000" stroke-width="1.7" />
<path d="M1254.4 704.4 L1264.7 694.1" fill="none" stroke="#000" stroke-width="1.7" />
<path d="M1235.6 706.6 L1269.4 715.1" fill="none" stroke="#000" stroke-width="5.2" stroke-linecap="butt"/>
<path d="M1233.8 708.5 L1234.7 763.1 L1235 827.5 L1270 835.5" fill="none" stroke="#000" stroke-width="3.7" />
<path d="M1237.5 823.8 L1270 831.5" fill="none" stroke="#000" stroke-width="1.7" />
<path d="M1250 765 L1202.5 758 C1196 758 1190 766 1190 775 C1190 784 1196 792 1202.5 792.5 L1240 807.5 L1251 806 Z" fill="#fff" stroke="#000" stroke-width="1.9"/>
<path d="M1240 763.5 L1240 807.5" fill="none" stroke="#000" stroke-width="2" />
<path d="M1202.5 792.5 L1240 807.5" fill="none" stroke="#000" stroke-width="3" />
<path d="M1204.5 758.5 L1205.5 793" fill="none" stroke="#000" stroke-width="1.3" />
<path d="M1208.5 759 L1209 794.5" fill="none" stroke="#000" stroke-width="1.3" />
<path d="M1206 760.5C1204.6 761.2 1199.7 762.6 1197.5 765C1195.3 767.4 1193.1 771.7 1193 775C1192.9 778.3 1195 782.3 1197 785C1199 787.7 1203.7 790 1205 791" fill="none" stroke="#000" stroke-width="1.3" />
<path d="M1288.1 712.8 L1312.5 708.1 L1332.5 707.5 L1432.5 722.5 L1433.8 730" fill="none" stroke="#000" stroke-width="1.7" />
<path d="M1300 708.1 L1427.5 723.1 L1429.4 732.5 L1495 737.2 L1537.2 740.9" fill="none" stroke="#000" stroke-width="1.7" />
<path d="M1288.1 716.6 L1296.6 714.7" fill="none" stroke="#000" stroke-width="4.6" />
<path d="M1288.1 719.8 L1298.4 717.5" fill="none" stroke="#000" stroke-width="2.3" />
<path d="M1298 716.2 L1350 728 L1425 740.5 L1475 748 L1537.5 754.2" fill="none" stroke="#000" stroke-width="4.4" />
<path d="M1300 710.5 L1350 719.5 L1425 732 L1475 739.5 L1537.5 745" fill="none" stroke="#000" stroke-width="1.7" />
<path d="M1301.2 713 L1350 722.5 L1425 735.5 L1475 743 L1537.5 748.8" fill="none" stroke="#000" stroke-width="1.7" />
<path d="M1298.8 716.2 L1300.5 842.5" fill="none" stroke="#000" stroke-width="4.5" />
<path d="M1296.2 715 L1297 750" fill="none" stroke="#000" stroke-width="1.4" />
<path d="M1288.8 833.8 L1294.2 836.5 L1294.2 842.5" fill="none" stroke="#000" stroke-width="2.1" />
<path d="M1288.8 840 L1288.8 845 L1417.5 867.5 L1435 854 L1537.5 860.5" fill="none" stroke="#000" stroke-width="3.1" />
<path d="M1294.2 842.5 L1417.5 861.5 L1435 850 L1537.5 856.5" fill="none" stroke="#000" stroke-width="2.1" />
<rect x="1430" y="724" width="13" height="8" fill="#000"/><rect x="1462" y="728" width="17" height="9" fill="#000"/>
<path d="M1431.3 725 L1495 734.4" fill="none" stroke="#000" stroke-width="2.3" />
<path d="M944.4 605 V709 H913.4 V772.5" stroke="#000" stroke-width="3.1" stroke-linecap="butt" stroke-linejoin="miter" fill="none"/>
<path d="M913.4 772.5 V772.5" stroke="#000" stroke-width="3.1" stroke-linecap="butt" fill="none"/>
<path d="M913.4 782.5 V795" stroke="#000" stroke-width="3.1" stroke-linecap="butt" fill="none"/>
<path d="M913.4 803.5 V876" stroke="#000" stroke-width="3.1" stroke-linecap="butt" fill="none"/>
<path d="M983.4 641 V772.5" stroke="#000" stroke-width="3.1" stroke-linecap="butt" fill="none"/>
<path d="M983.4 782.5 V795" stroke="#000" stroke-width="3.1" stroke-linecap="butt" fill="none"/>
<path d="M983.4 803.5 V876" stroke="#000" stroke-width="3.1" stroke-linecap="butt" fill="none"/>
<path d="M1112.2 662 V772.5" stroke="#000" stroke-width="3.1" stroke-linecap="butt" fill="none"/>
<path d="M1112.2 782.5 V795" stroke="#000" stroke-width="3.1" stroke-linecap="butt" fill="none"/>
<path d="M1112.2 803.5 V876" stroke="#000" stroke-width="3.1" stroke-linecap="butt" fill="none"/>
<path d="M1279.6 706 V767.5" stroke="#000" stroke-width="3.1" stroke-linecap="butt" fill="none"/>
<path d="M1279.6 774 V789" stroke="#000" stroke-width="3.1" stroke-linecap="butt" fill="none"/>
<path d="M1279.6 795.5 V876" stroke="#000" stroke-width="3.1" stroke-linecap="butt" fill="none"/>
<path d="M976 640.6 L990.5 640.6" fill="none" stroke="#000" stroke-width="1.6" />
<path d="M1104.5 662.2 L1113.5 662.2" fill="none" stroke="#000" stroke-width="1.6" />
<path d="M1273 706 L1286 706" fill="none" stroke="#000" stroke-width="1.6" />
<path d="M903.8 922 L904.8 884 Q905.4 874 913.0 873.6 Q920.4 874 920.6 884 L921.2 922 L925.0 922 L929.2 928.4 L927.2 934 L923.0 939 L921.6 942.8 L902.6 942.8 L900.6 937.8 L896.2 931 L896.2 928.4 L900.2 922 Z" fill="#000" stroke="#000" stroke-width="1" stroke-linejoin="round"/>
<rect x="910.2" y="889.5" width="5.6" height="6.1" fill="#fff"/>
<rect x="910.2" y="898.9" width="5.6" height="6.3" fill="#fff"/>
<rect x="910.2" y="908.3" width="5.6" height="7.3" fill="#fff"/>
<rect x="910.2" y="918.0" width="5.6" height="6.0" fill="#fff"/>
<path d="M910.4 887.6 L911.6 883.6 L912.0 881 L914.0 881 L914.6 883.6 L915.8 887.6Z" fill="#fff"/>
<path d="M903.3 929.6 Q904.0 927.8 907.0 928.4 L919.0 928.4 Q921.6 928 922.3 929.8" stroke="#fff" stroke-width="0.9" fill="none"/>
<rect x="908.0" y="932.8" width="4.2" height="2.3" fill="#fff"/><rect x="913.5" y="932.8" width="4.4" height="2.3" fill="#fff"/>
<path d="M974.0 922 L975.0 884 Q975.6 874 983.2 873.6 Q990.6 874 990.8 884 L991.4 922 L995.2 922 L999.4 928.4 L997.4 934 L993.2 939 L991.8 942.8 L972.8 942.8 L970.8 937.8 L966.4 931 L966.4 928.4 L970.4 922 Z" fill="#000" stroke="#000" stroke-width="1" stroke-linejoin="round"/>
<rect x="980.4" y="889.5" width="5.6" height="6.1" fill="#fff"/>
<rect x="980.4" y="898.9" width="5.6" height="6.3" fill="#fff"/>
<rect x="980.4" y="908.3" width="5.6" height="7.3" fill="#fff"/>
<rect x="980.4" y="918.0" width="5.6" height="6.0" fill="#fff"/>
<path d="M980.6 887.6 L981.8 883.6 L982.2 881 L984.2 881 L984.8 883.6 L986.0 887.6Z" fill="#fff"/>
<path d="M973.5 929.6 Q974.2 927.8 977.2 928.4 L989.2 928.4 Q991.8 928 992.5 929.8" stroke="#fff" stroke-width="0.9" fill="none"/>
<rect x="978.2" y="932.8" width="4.2" height="2.3" fill="#fff"/><rect x="983.7" y="932.8" width="4.4" height="2.3" fill="#fff"/>
<path d="M1102.6 922 L1103.6 884 Q1104.2 874 1111.8 873.6 Q1119.2 874 1119.4 884 L1120.0 922 L1123.8 922 L1128.0 928.4 L1126.0 934 L1121.8 939 L1120.4 942.8 L1101.4 942.8 L1099.4 937.8 L1095.0 931 L1095.0 928.4 L1099.0 922 Z" fill="#000" stroke="#000" stroke-width="1" stroke-linejoin="round"/>
<rect x="1109.0" y="889.5" width="5.6" height="6.1" fill="#fff"/>
<rect x="1109.0" y="898.9" width="5.6" height="6.3" fill="#fff"/>
<rect x="1109.0" y="908.3" width="5.6" height="7.3" fill="#fff"/>
<rect x="1109.0" y="918.0" width="5.6" height="6.0" fill="#fff"/>
<path d="M1109.2 887.6 L1110.4 883.6 L1110.8 881 L1112.8 881 L1113.4 883.6 L1114.6 887.6Z" fill="#fff"/>
<path d="M1102.1 929.6 Q1102.8 927.8 1105.8 928.4 L1117.8 928.4 Q1120.4 928 1121.1 929.8" stroke="#fff" stroke-width="0.9" fill="none"/>
<rect x="1106.8" y="932.8" width="4.2" height="2.3" fill="#fff"/><rect x="1112.3" y="932.8" width="4.4" height="2.3" fill="#fff"/>
<path d="M1270.4 922 L1271.4 884 Q1272.0 874 1279.6 873.6 Q1287.0 874 1287.2 884 L1287.8 922 L1291.6 922 L1295.8 928.4 L1293.8 934 L1289.6 939 L1288.2 942.8 L1269.2 942.8 L1267.2 937.8 L1262.8 931 L1262.8 928.4 L1266.8 922 Z" fill="#000" stroke="#000" stroke-width="1" stroke-linejoin="round"/>
<rect x="1276.8" y="889.5" width="5.6" height="6.1" fill="#fff"/>
<rect x="1276.8" y="898.9" width="5.6" height="6.3" fill="#fff"/>
<rect x="1276.8" y="908.3" width="5.6" height="7.3" fill="#fff"/>
<rect x="1276.8" y="918.0" width="5.6" height="6.0" fill="#fff"/>
<path d="M1277.0 887.6 L1278.2 883.6 L1278.6 881 L1280.6 881 L1281.2 883.6 L1282.4 887.6Z" fill="#fff"/>
<path d="M1269.9 929.6 Q1270.6 927.8 1273.6 928.4 L1285.6 928.4 Q1288.2 928 1288.9 929.8" stroke="#fff" stroke-width="0.9" fill="none"/>
<rect x="1274.6" y="932.8" width="4.2" height="2.3" fill="#fff"/><rect x="1280.1" y="932.8" width="4.4" height="2.3" fill="#fff"/>
</g>
<path d="M923.3 939.7 L1033.8 1000.6" fill="none" stroke="#000" stroke-width="2.3" />
<path d="M986.6 942.8 L1033.8 1000.6" fill="none" stroke="#000" stroke-width="2.3" />
<path d="M1106 944.3 L1033.8 1000.6" fill="none" stroke="#000" stroke-width="2.3" />
<path d="M1267.5 939.5 L1033.8 1000.6" fill="none" stroke="#000" stroke-width="2.3" />
<text x="1033.9" y="1033.6" style="filter:grayscale(1)" font-size="34" text-anchor="middle" fill="#000" stroke="#000" stroke-width="0.9">1</text>
<rect x="1023" y="1029.6" width="9.35" height="6.4" fill="#fff"/><rect x="1037.2" y="1029.6" width="7" height="6.4" fill="#fff"/>
</svg>
</body></html>
